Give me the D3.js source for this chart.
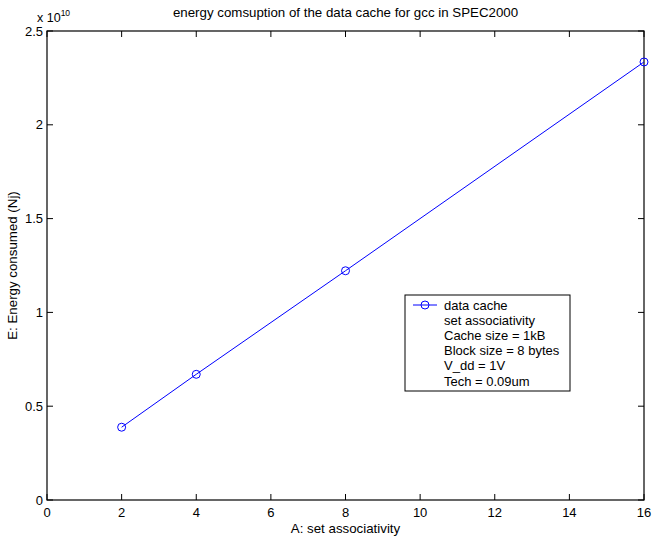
<!DOCTYPE html>
<html>
<head>
<meta charset="utf-8">
<script src="https://cdn.jsdelivr.net/npm/d3@7"></script>
<style>
  body { margin: 0; background: #fff; }
  text { font-family: "Liberation Sans", Arial, Helvetica, sans-serif; fill: #000; }
</style>
</head>
<body>
<svg id="chart" width="652" height="538"></svg>
<script>
// set associativity vs energy (x 1e10 Nj)
var assoc = [2, 4, 8, 16];
var energy = [0.388, 0.670, 1.222, 2.335];
var xTicks = [0, 2, 4, 6, 8, 10, 12, 14, 16];
var yTicks = [0, 0.5, 1, 1.5, 2, 2.5];
var legendLines = ["data cache", "set associativity", "Cache size = 1kB",
                   "Block size = 8 bytes", "V_dd = 1V", "Tech = 0.09um"];

var svg = d3.select("#chart"),
    pL = 47, pR = 644, pT = 31, pB = 500;

var x = d3.scaleLinear().domain([0, 16]).range([pL, pR]),
    y = d3.scaleLinear().domain([0, 2.5]).range([pB, pT]);

var blue = "#0000ff";

// frame
svg.append("rect")
  .attr("x", pL).attr("y", pT)
  .attr("width", pR - pL).attr("height", pB - pT)
  .attr("fill", "none").attr("stroke", "#000").attr("stroke-width", 1.2);

// x ticks (bottom + top, inward)
var xt = svg.append("g");
xt.selectAll("line.b").data(xTicks).enter().append("line").attr("class", "b")
  .attr("x1", function(d) { return x(d); }).attr("x2", function(d) { return x(d); })
  .attr("y1", pB).attr("y2", pB - 6)
  .attr("stroke", "#000");
xt.selectAll("line.t").data(xTicks).enter().append("line").attr("class", "t")
  .attr("x1", function(d) { return x(d); }).attr("x2", function(d) { return x(d); })
  .attr("y1", pT).attr("y2", pT + 6)
  .attr("stroke", "#000");
xt.selectAll("text").data(xTicks).enter().append("text")
  .attr("x", function(d) { return x(d); })
  .attr("y", pB + 17)
  .attr("text-anchor", "middle")
  .style("font-size", "13px")
  .text(function(d) { return d; });

// y ticks
var yt = svg.append("g");
yt.selectAll("line.l").data(yTicks).enter().append("line").attr("class", "l")
  .attr("x1", pL).attr("x2", pL + 6)
  .attr("y1", function(d) { return y(d); }).attr("y2", function(d) { return y(d); })
  .attr("stroke", "#000");
yt.selectAll("line.r").data(yTicks).enter().append("line").attr("class", "r")
  .attr("x1", pR).attr("x2", pR - 6)
  .attr("y1", function(d) { return y(d); }).attr("y2", function(d) { return y(d); })
  .attr("stroke", "#000");
yt.selectAll("text").data(yTicks).enter().append("text")
  .attr("x", pL - 4)
  .attr("y", function(d) { return y(d) + 4.5; })
  .attr("text-anchor", "end")
  .style("font-size", "13px")
  .text(function(d) { return d; });

// exponent
var ex = svg.append("text").attr("x", 37).attr("y", 22).style("font-size", "12.5px");
ex.append("tspan").text("x 10");
ex.append("tspan").attr("dy", -6).style("font-size", "8.5px").text("10");

// title and labels
svg.append("text")
  .attr("x", (pL + pR) / 2).attr("y", 17)
  .attr("text-anchor", "middle")
  .style("font-size", "13.3px")
  .text("energy comsuption of the data cache for gcc in SPEC2000");

svg.append("text")
  .attr("x", (pL + pR) / 2).attr("y", pB + 33)
  .attr("text-anchor", "middle")
  .style("font-size", "13.3px")
  .text("A: set associativity");

svg.append("text")
  .attr("transform", "translate(17," + ((pT + pB) / 2) + ") rotate(-90)")
  .attr("text-anchor", "middle")
  .style("font-size", "13.3px")
  .text("E: Energy consumed (Nj)");

// series
var line = d3.line()
  .x(function(d, i) { return x(assoc[i]); })
  .y(function(d) { return y(d); });

svg.append("path")
  .datum(energy)
  .attr("d", line)
  .attr("fill", "none")
  .attr("stroke", blue)
  .attr("stroke-width", 1);

svg.selectAll("circle.pt").data(energy).enter().append("circle")
  .attr("class", "pt")
  .attr("cx", function(d, i) { return x(assoc[i]); })
  .attr("cy", function(d) { return y(d); })
  .attr("r", 4)
  .attr("fill", "none")
  .attr("stroke", blue)
  .attr("stroke-width", 1);

// legend
var lg = svg.append("g").attr("transform", "translate(405,295)");
lg.append("rect")
  .attr("width", 165).attr("height", 96)
  .attr("fill", "#fff").attr("stroke", "#000");
lg.append("line")
  .attr("x1", 8).attr("x2", 32).attr("y1", 10).attr("y2", 10)
  .attr("stroke", blue);
lg.append("circle")
  .attr("cx", 20).attr("cy", 10).attr("r", 4)
  .attr("fill", "none").attr("stroke", blue);
lg.selectAll("text").data(legendLines).enter().append("text")
  .attr("x", 39)
  .attr("y", function(d, i) { return 14.5 + i * 15.2; })
  .style("font-size", "13px")
  .text(function(d) { return d; });
</script>
</body>
</html>
